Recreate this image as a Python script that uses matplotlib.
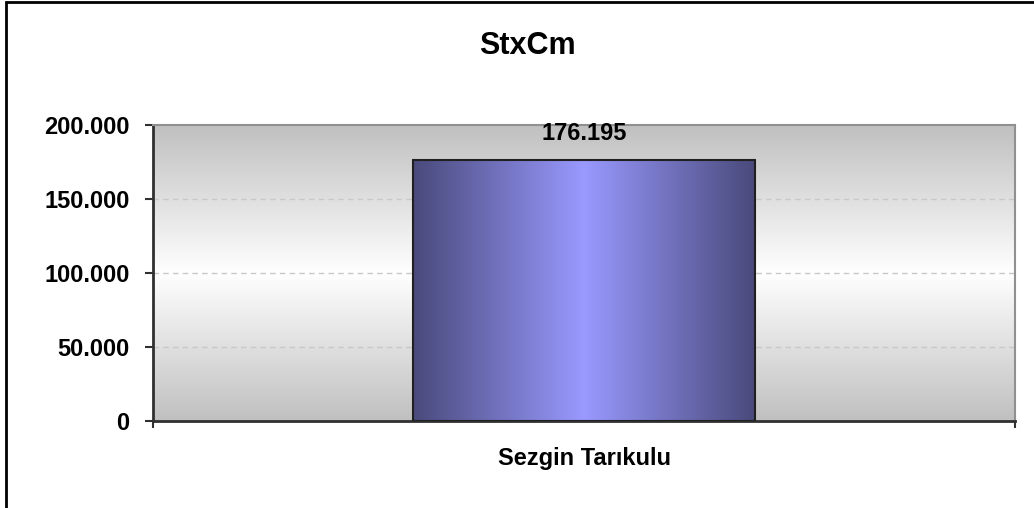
import matplotlib.pyplot as plt
import matplotlib.colors as mcolors
import matplotlib.transforms as mtransforms
from matplotlib.ticker import FuncFormatter
from matplotlib.patches import Rectangle
import numpy as np

title = 'StxCm'
categories = ['Sezgin Tarıkulu']
values = [176195]
yticks = [0, 50000, 100000, 150000, 200000]

plt.rcParams['font.family'] = ['Liberation Sans', 'DejaVu Sans']

def tr_fmt(v, pos=None):
    return f'{int(round(v)):,}'.replace(',', '.')

fig = plt.figure(figsize=(10.34, 5.08), dpi=100)
fig.patch.set_facecolor('white')

# outer chart border
fig.add_artist(Rectangle((6 / 1034, -0.01), 1.1, 1 - 2 / 508 + 0.01,
                         transform=fig.transFigure, fill=False,
                         edgecolor='black', linewidth=2))

ax = fig.add_axes([153 / 1034, 1 - 421 / 508, (1015 - 153) / 1034, (421 - 125) / 508])

# background gradient gray-white-gray
bg = mcolors.LinearSegmentedColormap.from_list('bg', ['#c0c0c0', '#ffffff', '#c0c0c0'])
grad = np.linspace(0, 1, 256).reshape(-1, 1)
ax.imshow(grad, cmap=bg, aspect='auto', extent=[0, 1, 0, 1],
          transform=ax.transAxes, zorder=0)

for t in yticks[1:-1]:
    ax.axhline(t, color='#c8c8c8', linestyle=(0, (4, 3)), linewidth=1, zorder=1)

bars = ax.bar(range(len(categories)), values, width=0.396,
              facecolor='none', edgecolor='#202020', linewidth=1.5, zorder=3)

barcm = mcolors.LinearSegmentedColormap.from_list('bar', ['#4a4a7c', '#9999ff', '#4a4a7c'])
for b in bars:
    x0, w, h = b.get_x(), b.get_width(), b.get_height()
    im = ax.imshow(np.linspace(0, 1, 256).reshape(1, -1), cmap=barcm, aspect='auto',
                   extent=[x0, x0 + w, 0, h], zorder=2)
    im.set_clip_path(b)
    ax.text(x0 + w / 2, h + 10000, tr_fmt(h), ha='center', va='bottom',
            fontsize=17, fontweight='bold', clip_on=False, zorder=5)

ax.set_xlim(-0.5, 0.5)
ax.set_ylim(0, 200000)

ax.set_yticks(yticks)
ax.yaxis.set_major_formatter(FuncFormatter(tr_fmt))
ax.set_xticks([-0.5, 0.5])
ax.set_xticklabels(['', ''])
ax.tick_params(axis='x', length=5, width=1.5, color='#303030')
ax.tick_params(axis='y', length=6, width=1.5, color='#303030', labelsize=17, pad=11)
for lab in ax.get_yticklabels():
    lab.set_fontweight('bold')

# category label below the axis
trans = mtransforms.blended_transform_factory(ax.transData, fig.transFigure)
for i, c in enumerate(categories):
    ax.text(i, 1 - 459 / 508, c, transform=trans, ha='center', va='center',
            fontsize=17, fontweight='bold', clip_on=False)

ax.spines['left'].set_color('#303030')
ax.spines['left'].set_linewidth(2)
ax.spines['bottom'].set_color('#303030')
ax.spines['bottom'].set_linewidth(2)
ax.spines['top'].set_color('#909090')
ax.spines['right'].set_color('#909090')
ax.spines['top'].set_linewidth(1.5)
ax.spines['right'].set_linewidth(1.5)

fig.text(527 / 1034, 1 - 46 / 508, title, ha='center', va='center',
         fontsize=22, fontweight='bold')

fig.savefig('out.png', dpi=100)
